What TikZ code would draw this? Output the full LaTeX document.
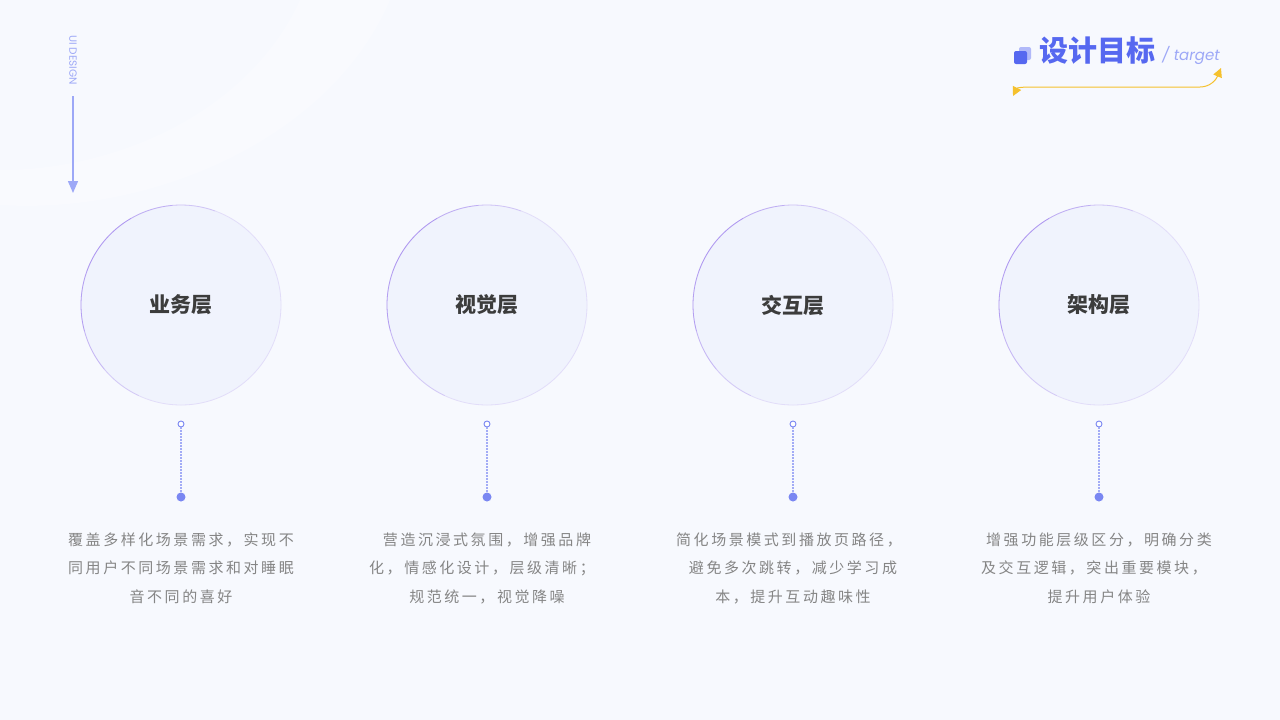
\documentclass[tikz,border=0pt]{standalone}
\usepackage{fontspec}
\usetikzlibrary{arrows.meta}
\newfontfamily\cjk{Noto Sans CJK SC}
\newfontfamily\cjksp{Noto Sans CJK SC}[LetterSpace=17]
\newfontfamily\latin{Poppins}
\definecolor{bg}{HTML}{F7F9FE}
\definecolor{circfill}{HTML}{F0F3FD}
\definecolor{circline}{HTML}{E2DDF9}
\definecolor{circdark}{HTML}{A990F0}
\definecolor{dotblue}{HTML}{7A87F2}
\definecolor{dotline}{HTML}{A3ACF6}
\definecolor{bodygray}{HTML}{858585}
\definecolor{titleblue}{HTML}{5668F0}
\definecolor{lightblue}{HTML}{9DA8F7}
\definecolor{gold}{HTML}{F5C12E}
\definecolor{headgray}{HTML}{3C3C3C}
\tikzset{
  circ/.style={circle, minimum size=200pt, inner sep=0pt, fill=circfill, draw=circline, line width=0.8pt,
    font=\cjk\bfseries\fontsize{21}{24}\selectfont, text=headgray},
  opendot/.style={circle, minimum size=6pt, inner sep=0pt, draw=dotblue, fill=white, line width=0.9pt},
  filldot/.style={circle, minimum size=9pt, inner sep=0pt, fill=dotblue},
  body/.style={font=\cjksp\fontsize{15}{28}\selectfont, text=bodygray, inner sep=0pt},
}
\begin{document}
\begin{tikzpicture}[x=1pt,y=-1pt]
\fill[bg] (0,0) rectangle (1280,720);
\useasboundingbox (0,0) rectangle (1280,720);
% faint swoosh
\fill[white, opacity=0.25] (0,205) .. controls (150,215) and (330,140) .. (390,0) -- (300,0) .. controls (250,110) and (120,170) .. (0,170) -- cycle;
% UI DESIGN
\node[rotate=-90, anchor=west, inner sep=0pt, text=lightblue, font=\latin\fontsize{10.5}{12}\selectfont] (uid) at (73,35) {UI DESIGN};
\coordinate (ua) at (73,96);
\coordinate (ub) at (73,193);
\draw[lightblue, line width=1.5pt, -{Triangle[width=10pt,length=12pt]}] (ua) -- (ub);
% title
\fill[lightblue!80, rounded corners=2pt] (1019,47) rectangle (1031,60);
\fill[titleblue, rounded corners=2pt] (1014,51) rectangle (1027,64);
\node[inner sep=0pt, text=titleblue, font=\cjk\bfseries\fontsize{29}{32}\selectfont] (ttl) at (1097,51) {设计目标};
\node[inner sep=0pt, text=lightblue, font=\latin\itshape\fontsize{15}{18}\selectfont] (tgt) at (1191,55) {/ target};
\coordinate (ya) at (1013,96);
\coordinate (yb) at (1221,68);
\draw[gold, line width=1pt, {Triangle[width=9pt,length=9pt]}-{Triangle[width=9pt,length=9pt]}] (ya) .. controls (1017,88) and (1021,87) .. (1030,87) -- (1200,87) .. controls (1210,87) and (1216,80) .. (yb);
% columns
\foreach \x/\t/\n in {181/业务层/a, 487/视觉层/b, 793/交互层/c, 1099/架构层/d}{
  \node[circ] (c\n) at (\x,305) {\t};
  \foreach \s/\e/\o in {115/140/0.25, 140/165/0.5, 165/200/0.8, 200/240/0.9, 240/265/0.6, 265/290/0.3}{
    \draw[circdark, line width=0.8pt, opacity=\o] (\x,305) ++(\s:100) arc[start angle=\s, end angle=\e, radius=100];
  }
  \node[opendot] (o\n) at (\x,424) {};
  \node[filldot] (d\n) at (\x,497) {};
  \draw[dotline, line width=1.2pt, dash pattern=on 1.5pt off 1.5pt] (o\n) -- (d\n);
}
% texts
\node[body] (a1) at (181,540) {覆盖多样化场景需求，实现不};
\node[body] (a2) at (181,568) {同用户不同场景需求和对睡眠};
\node[body] (a3) at (181,597) {音不同的喜好};
\node[body] (b1) at (487,540) {营造沉浸式氛围，增强品牌};
\node[body] (b2) at (482,568) {化，情感化设计，层级清晰；};
\node[body] (b3) at (487,597) {规范统一，视觉降噪};
\node[body] (c1) at (789,540) {简化场景模式到播放页路径，};
\node[body] (c2) at (793,568) {避免多次跳转，减少学习成};
\node[body] (c3) at (793,597) {本，提升互动趣味性};
\node[body] (d1) at (1099,540) {增强功能层级区分，明确分类};
\node[body] (d2) at (1094,568) {及交互逻辑，突出重要模块，};
\node[body] (d3) at (1099,597) {提升用户体验};
\end{tikzpicture}
\end{document}
